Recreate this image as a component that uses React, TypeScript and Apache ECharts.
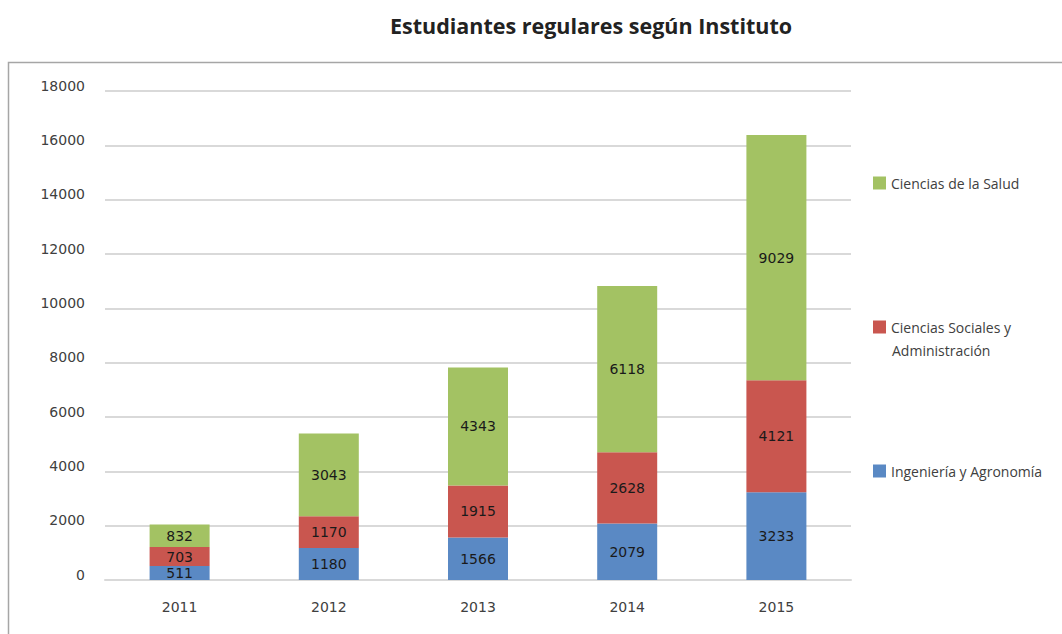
import React, { useEffect, useRef } from "react";
import * as echarts from "echarts";

const years = ["2011", "2012", "2013", "2014", "2015"];
const ingenieria = [511, 1180, 1566, 2079, 3233];
const sociales = [703, 1170, 1915, 2628, 4121];
const salud = [832, 3043, 4343, 6118, 9029];

const seriesNames = ["Ingeniería y Agronomía", "Ciencias Sociales y Administración", "Ciencias de la Salud"];
const colors = ["#5A89C4", "#C9564F", "#A3C263"];
const titleText = "Estudiantes regulares según Instituto";

export default function App() {
  const ref = useRef<HTMLDivElement>(null);
  useEffect(() => {
    if (!ref.current) return;
    const chart = echarts.init(ref.current, null, { renderer: "svg" });
    const font = "DejaVu Sans";
    const legendText = { fontFamily: "Open Sans", fontSize: 14, color: "#404040", lineHeight: 16 };
    const makeSeries = (name: string, data: number[], color: string) => ({
      name,
      type: "bar",
      stack: "total",
      data,
      barWidth: 60,
      itemStyle: { color },
      label: {
        show: true,
        position: "inside",
        fontFamily: font,
        fontSize: 14,
        color: "#1a1a1a",
      },
    });
    chart.setOption({
      animation: false,
      backgroundColor: "#ffffff",
      title: {
        text: titleText,
        left: 586,
        textAlign: "center",
        top: 9,
        textStyle: { fontFamily: "Open Sans", fontWeight: "bold", fontSize: 21.5, color: "#222222" },
      },
      graphic: [
        {
          type: "rect",
          shape: { x: 8.5, y: 62.5, width: 1070, height: 600 },
          style: { fill: "none", stroke: "#a6a6a6", lineWidth: 1.5 },
          silent: true,
          z: -1,
        },
        {
          type: "text",
          left: 892,
          top: 343,
          style: {
            text: "Administración",
            font: "14px 'Open Sans'",
            fill: "#404040",
          },
        },
      ],
      grid: { left: 105, right: 211, top: 91, bottom: 54 },
      xAxis: {
        type: "category",
        data: years,
        axisLine: { show: true, lineStyle: { color: "#d9d9d9", width: 2 } },
        axisTick: { show: false },
        axisLabel: { fontFamily: font, fontSize: 14, color: "#404040", margin: 20 },
      },
      yAxis: {
        type: "value",
        min: 0,
        max: 18000,
        interval: 2000,
        axisLine: { show: false },
        axisTick: { show: false },
        splitLine: { lineStyle: { color: "#d9d9d9", width: 2 } },
        axisLabel: {
          fontFamily: font,
          fontSize: 14,
          color: "#404040",
          margin: 20,
          verticalAlign: "bottom",
          lineHeight: 11,
          formatter: (v: number) => String(v),
        },
      },
      legend: [
        {
          data: [seriesNames[2]],
          orient: "vertical",
          left: 873,
          top: 175,
          padding: 0,
          itemWidth: 13,
          itemHeight: 13,
          itemGap: 6,
          icon: "rect",
          textStyle: legendText,
        },
        {
          data: [seriesNames[1]],
          orient: "vertical",
          left: 873,
          top: 319,
          padding: 0,
          itemWidth: 13,
          itemHeight: 13,
          icon: "rect",
          formatter: () => "Ciencias Sociales y",
          textStyle: legendText,
        },
        {
          data: [seriesNames[0]],
          orient: "vertical",
          left: 873,
          top: 463,
          padding: 0,
          itemWidth: 13,
          itemHeight: 13,
          icon: "rect",
          textStyle: legendText,
        },
      ],
      series: [
        makeSeries(seriesNames[0], ingenieria, colors[0]),
        makeSeries(seriesNames[1], sociales, colors[1]),
        makeSeries(seriesNames[2], salud, colors[2]),
      ],
    });
    return () => chart.dispose();
  }, []);
  return (
    <div
      ref={ref}
      style={{ position: "absolute", left: 0, top: 0, width: 1062, height: 634 }}
    />
  );
}
